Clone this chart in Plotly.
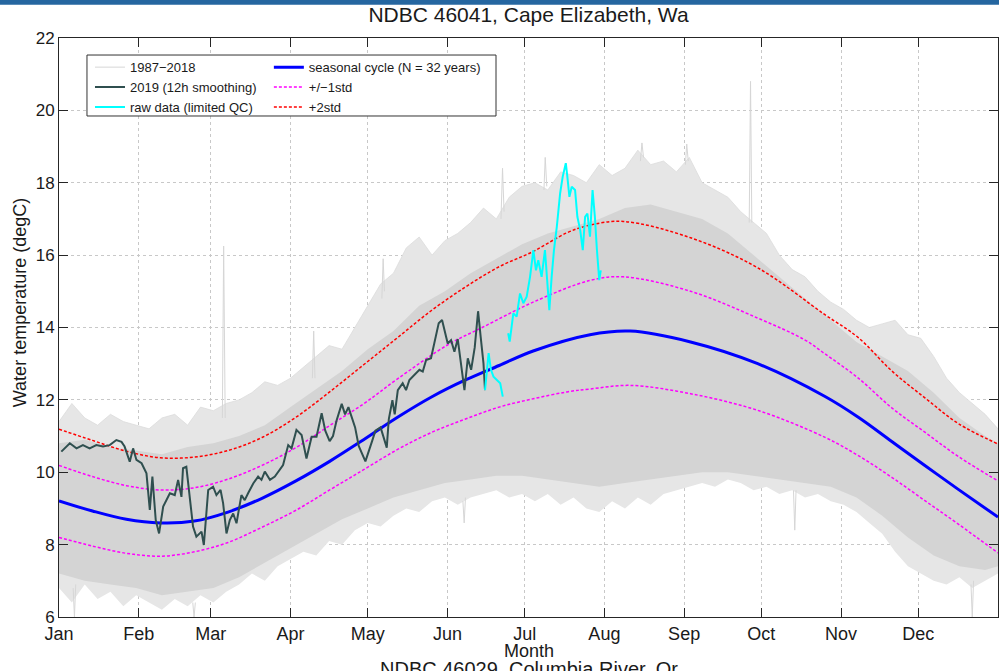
import plotly.graph_objects as go

# ---- axis labels -------------------------------------------------------
month_days = [0, 31, 59, 90, 120, 151, 181, 212, 243, 273, 304, 334]
month_labels = ["Jan", "Feb", "Mar", "Apr", "May", "Jun",
                "Jul", "Aug", "Sep", "Oct", "Nov", "Dec"]

# ---- 1987-2018 historical spread (outer extent, day of year) -----------
hist_day = list(range(0, 366, 5))
hist_max = [11.4, 11.9, 11.5, 11.3, 11.6, 11.4, 11.3, 11.2, 11.5, 11.6,
            11.3, 11.8, 11.7, 11.9, 12.0, 12.2, 12.5, 12.4, 12.6, 12.9,
            13.2, 13.5, 13.4, 14.0, 14.6, 15.2, 15.5, 16.2, 16.5, 16.0,
            16.4, 16.6, 16.9, 17.3, 17.0, 17.6, 17.9, 18.0, 17.8, 18.3,
            18.2, 18.0, 18.5, 18.2, 18.4, 18.9, 18.5, 18.6, 18.3, 18.7,
            18.0, 17.8, 17.6, 17.2, 16.9, 16.6, 16.0, 15.6, 15.4, 15.0,
            14.7, 14.5, 14.2, 14.0, 14.1, 14.2, 13.8, 13.7, 13.2, 12.6,
            12.2, 11.9, 11.6, 11.2]
hist_min = [6.8, 6.4, 6.9, 6.5, 6.7, 6.3, 6.6, 6.4, 6.2, 6.5,
            6.3, 6.6, 6.4, 6.7, 6.9, 7.2, 7.0, 7.4, 7.6, 7.8,
            7.7, 8.1, 8.0, 8.4, 8.6, 8.5, 8.8, 9.0, 8.9, 9.2,
            9.3, 9.1, 9.3, 9.4, 9.5, 9.3, 9.4, 9.2, 9.4, 9.1,
            9.3, 9.0, 8.9, 9.2, 9.0, 9.3, 9.1, 9.4, 9.5, 9.6,
            9.7, 9.6, 9.8, 9.7, 9.5, 9.6, 9.4, 9.5, 9.3, 9.4,
            9.2, 9.1, 8.9, 8.6, 8.3, 7.8, 7.4, 7.2, 7.0, 6.9,
            7.1, 6.8, 7.0, 7.2]

# denser core of the historical records
core_day = list(range(0, 361, 10)) + [365]
core_max = [10.8, 10.9, 10.7, 10.6, 10.5, 10.7, 10.8, 11.0, 11.3, 11.8,
            12.3, 12.8, 13.4, 13.9, 14.6, 15.0, 15.5, 15.9, 16.3, 16.6,
            16.8, 17.0, 17.3, 17.4, 17.2, 17.0, 16.6, 16.0, 15.4, 14.8,
            14.2, 13.6, 13.2, 12.8, 12.2, 11.5, 11.0, 10.8]
core_min = [7.2, 7.0, 6.9, 6.8, 6.6, 6.7, 6.8, 7.1, 7.5, 7.9,
            8.3, 8.7, 9.0, 9.3, 9.5, 9.7, 9.8, 9.9, 9.9, 9.8,
            9.7, 9.6, 9.7, 9.8, 9.9, 10.0, 10.0, 9.9, 9.8, 9.7,
            9.6, 9.3, 8.8, 8.2, 7.7, 7.4, 7.3, 7.4]

# isolated excursions of individual years (None separates events)
spike_day = [5.5, 6.0, 6.5, None, 52.0, 52.5, 53.0, None,
             63.5, 64.0, 64.6, None, 98.5, 99.0, 99.5, None,
             125.5, 126.0, 126.5, None, 157.0, 157.5, 158.0, None,
             171.8, 172.4, 173.0, None, 188.5, 189.0, 189.6, None,
             226.0, 226.6, 227.2, None, 243.5, 244.0, 244.6, None,
             268.3, 268.8, 269.3, None, 285.5, 286.0, 286.5, None,
             354.5, 355.0, 355.5]
spike_val = [6.8, 6.0, 6.9, None, 6.4, 6.0, 6.4, None,
             11.5, 16.25, 11.5, None, 12.6, 13.9, 12.6, None,
             14.8, 15.9, 15.0, None, 9.2, 8.6, 9.3, None,
             17.0, 18.4, 17.2, None, 17.8, 18.7, 17.9, None,
             18.6, 19.1, 18.7, None, 18.5, 19.07, 18.6, None,
             16.9, 20.8, 16.9, None, 9.5, 8.4, 9.5, None,
             6.9, 6.0, 7.0]

# ---- seasonal cycle and spread -----------------------------------------
cyc_day = [0, 13, 26.2, 39.4, 52.6, 65.7, 78.9, 92.1, 105.2, 118.4, 131.6,
           144.8, 158, 171.1, 184.3, 206.4, 222, 245.5, 271.6, 297.6,
           310.7, 323.7, 336.7, 349.7, 365]
cyc_mean = [9.21, 8.93, 8.70, 8.60, 8.65, 8.90, 9.28, 9.76, 10.30, 10.90,
            11.52, 12.08, 12.55, 12.95, 13.35, 13.80, 13.90, 13.60, 13.00,
            12.10, 11.52, 10.85, 10.18, 9.52, 8.76]

up1_day = [0, 13, 26.2, 39.4, 52.6, 65.7, 78.9, 92.1, 105.2, 118.4, 131.6,
           151.3, 164.5, 184.3, 206.4, 219.4, 245.5, 271.6, 289.8, 297.6,
           310.7, 323.7, 336.7, 349.7, 365]
up1_val = [10.19, 9.88, 9.63, 9.51, 9.57, 9.81, 10.19, 10.68, 11.29, 11.89,
           12.58, 13.53, 14.00, 14.70, 15.30, 15.40, 15.00, 14.26, 13.66,
           13.28, 12.60, 11.78, 11.10, 10.43, 9.76]

lo1_day = [0, 13, 26.2, 39.4, 52.6, 65.7, 78.9, 92.1, 105.2, 118.4, 131.6,
           144.8, 158, 171.1, 184.3, 197.5, 206.4, 222, 245.5, 271.6, 297.6,
           310.7, 323.7, 336.7, 349.7, 365]
lo1_val = [8.20, 7.96, 7.76, 7.68, 7.80, 8.06, 8.48, 8.95, 9.51, 10.07,
           10.63, 11.10, 11.47, 11.80, 12.03, 12.22, 12.30, 12.40, 12.17,
           11.71, 10.97, 10.46, 9.86, 9.21, 8.56, 7.77]

up2_day = [0, 13, 26.2, 39.4, 52.6, 65.7, 78.9, 92.1, 105.2, 118.4, 131.6,
           144.8, 158, 171.1, 184.3, 197.5, 206.4, 219.4, 245.5, 271.6,
           297.6, 310.7, 323.7, 336.7, 349.7, 365]
up2_val = [11.19, 10.88, 10.58, 10.40, 10.42, 10.60, 10.96, 11.52, 12.22,
           12.97, 13.72, 14.47, 15.12, 15.68, 16.10, 16.62, 16.83, 16.93,
           16.48, 15.65, 14.36, 13.72, 12.80, 12.05, 11.34, 10.78]

# ---- 2019, 12 h smoothed ----------------------------------------------
y2019_day = [0.9, 4.2, 6.8, 9.3, 11.9, 14.5, 17.1, 19.7, 22.3, 24.3, 25.5,
             27.5, 28.8, 30.1, 32.1, 34.0, 35.3, 36.3, 37.6, 38.9, 40.5,
             41.8, 43.1, 45.0, 46.3, 47.6, 48.2, 49.5, 50.8, 52.1, 53.4,
             55.4, 56.3, 58.0, 59.9, 61.2, 62.8, 63.8, 65.1, 66.4, 67.7,
             69.0, 70.9, 72.2, 73.5, 75.5, 77.4, 78.7, 80.0, 82.0, 83.9,
             85.8, 87.1, 89.1, 90.4, 92.3, 94.3, 96.2, 98.2, 100.1, 102.1,
             103.5, 105.2, 106.5, 107.9, 109.9, 111.2, 112.5, 113.8, 115.1,
             116.5, 117.7, 119.1, 121.7, 123.0, 125.0, 127.4, 128.2, 129.6,
             130.5, 131.7, 133.6, 134.9, 136.2, 138.2, 140.1, 141.4, 142.7,
             144.6, 146.3, 147.6, 148.9, 149.8, 151.1, 152.4, 153.7, 155.0,
             156.3, 157.6, 158.9, 160.2, 161.6, 162.9, 163.9, 165.0, 165.6]
y2019_val = [10.57, 10.80, 10.66, 10.75, 10.66, 10.75, 10.71, 10.75, 10.89,
             10.84, 10.71, 10.29, 10.66, 10.34, 10.25, 9.97, 8.96, 9.88,
             8.68, 8.31, 9.05, 9.23, 9.42, 9.37, 9.79, 9.32, 10.11, 10.15,
             9.32, 8.50, 8.22, 8.36, 7.99, 9.51, 9.60, 9.37, 9.51, 9.14,
             8.31, 8.68, 8.86, 8.59, 9.37, 9.23, 9.42, 9.69, 9.88, 9.79,
             10.02, 9.79, 9.88, 10.06, 10.20, 10.75, 10.66, 11.17, 11.03,
             10.38, 10.98, 10.98, 11.63, 11.15, 10.86, 11.00, 11.43, 11.89,
             11.60, 11.80, 11.52, 11.24, 10.73, 10.54, 10.30, 10.86, 11.15,
             11.24, 10.68, 11.47, 11.99, 11.60, 12.27, 12.46, 12.27, 12.55,
             12.69, 12.83, 12.78, 13.10, 13.15, 13.75, 14.12, 14.21, 13.93,
             13.56, 13.65, 13.33, 13.68, 13.00, 12.27, 13.15, 12.83, 13.45,
             14.45, 13.75, 13.01, 12.27]

# ---- raw real-time data ------------------------------------------------
raw_day = [165.6, 166.3, 167.0, 167.9, 168.9, 170.2, 171.5, 172.5, None,
           174.6, 175.2, 176.6, 177.9, 179.2, 180.5, 181.8, 183.1, 184.4,
           185.4, 186.3, 187.6, 188.9, 189.5, 190.6, 191.5, 192.4, 193.5,
           194.8, 195.8, 197.0, 197.6, 198.4, 199.3, 200.6, 201.5, 202.6,
           203.6, 204.5, 205.4, 206.4, 207.4, 208.3, 209.1, 210.0, 210.6]
raw_val = [12.27, 12.83, 13.29, 12.83, 12.64, 12.55, 12.46, 12.09, None,
           13.84, 13.61, 14.39, 14.30, 14.94, 14.67, 14.85, 15.40, 16.14,
           15.58, 15.86, 15.40, 16.14, 15.58, 14.48, 15.40, 16.14, 16.78,
           17.71, 18.17, 18.54, 18.17, 17.61, 17.89, 17.80, 17.06, 16.69,
           16.14, 17.06, 17.15, 16.51, 17.80, 17.06, 16.14, 15.31, 15.58]

FONT = "Liberation Sans, Arial, Helvetica, sans-serif"
DOT = "3px,2px"

fig = go.Figure()

# historical spread: outer extent then denser core
fig.add_trace(go.Scatter(x=hist_day, y=hist_min, mode="lines",
                         line=dict(width=0, color="#e4e4e4"),
                         showlegend=False, hoverinfo="skip"))
fig.add_trace(go.Scatter(x=hist_day, y=hist_max, mode="lines", fill="tonexty",
                         fillcolor="#e6e6e6", line=dict(width=0.8, color="#dcdcdc"),
                         showlegend=False, hoverinfo="skip"))
fig.add_trace(go.Scatter(x=core_day, y=core_min, mode="lines",
                         line=dict(width=0, color="#d4d4d4"),
                         showlegend=False, hoverinfo="skip"))
fig.add_trace(go.Scatter(x=core_day, y=core_max, mode="lines", fill="tonexty",
                         fillcolor="#d4d4d4", line=dict(width=0, color="#d4d4d4"),
                         showlegend=False, hoverinfo="skip"))
fig.add_trace(go.Scatter(x=spike_day, y=spike_val, mode="lines",
                         line=dict(width=1, color="#d6d6d6"),
                         name="1987\u22122018", legend="legend"))

# seasonal cycle with standard deviation envelopes
fig.add_trace(go.Scatter(x=cyc_day, y=cyc_mean, mode="lines",
                         line=dict(width=3, color="#0000ff", shape="spline"),
                         name="seasonal cycle (N = 32 years)", legend="legend2"))
fig.add_trace(go.Scatter(x=up1_day, y=up1_val, mode="lines",
                         line=dict(width=1.5, color="#ff00ff", dash=DOT, shape="spline"),
                         name="+/\u22121std", legend="legend2"))
fig.add_trace(go.Scatter(x=lo1_day, y=lo1_val, mode="lines",
                         line=dict(width=1.5, color="#ff00ff", dash=DOT, shape="spline"),
                         showlegend=False))
fig.add_trace(go.Scatter(x=up2_day, y=up2_val, mode="lines",
                         line=dict(width=1.5, color="#ff0000", dash=DOT, shape="spline"),
                         name="+2std", legend="legend2"))

# current year
fig.add_trace(go.Scatter(x=y2019_day, y=y2019_val, mode="lines",
                         line=dict(width=2, color="#2f4f4f"),
                         name="2019 (12h smoothing)", legend="legend"))
fig.add_trace(go.Scatter(x=raw_day, y=raw_val, mode="lines",
                         line=dict(width=2, color="#00ffff"),
                         name="raw data (limited QC)", legend="legend"))

axis_common = dict(showline=True, linecolor="#262626", linewidth=1, mirror="ticks",
                   ticks="inside", ticklen=9, tickcolor="#262626",
                   showgrid=True, gridcolor="#c8c8c8", griddash="dot", gridwidth=1,
                   zeroline=False)

fig.update_xaxes(range=[0, 365], tickvals=month_days, ticktext=month_labels,
                 tickfont=dict(family=FONT, size=18, color="#1a1a1a"), **axis_common)
fig.update_yaxes(range=[6, 22], dtick=2,
                 tickfont=dict(family=FONT, size=17, color="#1a1a1a"), **axis_common)

legend_common = dict(bgcolor="rgba(0,0,0,0)", borderwidth=0, xanchor="left",
                     yanchor="top", font=dict(family=FONT, size=13, color="#1a1a1a"),
                     tracegroupgap=0, itemwidth=30, traceorder="normal")

fig.update_layout(
    width=999, height=671,
    margin=dict(l=59, r=1, t=38, b=54),
    paper_bgcolor="white", plot_bgcolor="white",
    font=dict(family=FONT, color="#1a1a1a"),
    title=dict(text="NDBC 46041, Cape Elizabeth, Wa", x=0.5, xref="paper",
               xanchor="center", y=1 - 15 / 671, yref="container", yanchor="middle",
               font=dict(family=FONT, size=21, color="#1a1a1a")),
    legend=dict(x=0.033, y=0.9755, **legend_common),
    legend2=dict(x=0.2235, y=0.9755, **legend_common),
    shapes=[
        dict(type="rect", xref="paper", yref="paper", x0=0.0298, x1=0.4654,
             y0=0.8653, y1=0.9706, line=dict(color="#333333", width=1),
             fillcolor="white", layer="above"),
        dict(type="rect", xref="paper", yref="paper", x0=-0.07, x1=1.01,
             y0=1.0573, y1=1.07, line=dict(width=0), fillcolor="#2566a0",
             layer="above"),
    ],
    annotations=[
        dict(text="Water temperature (degC)", textangle=-90, xref="paper",
             yref="paper", x=-0.0415, y=0.542, xanchor="center", yanchor="middle",
             showarrow=False, font=dict(family=FONT, size=18, color="#1a1a1a")),
        dict(text="Month", xref="paper", yref="paper", x=0.5, y=-0.0587,
             yanchor="middle", showarrow=False,
             font=dict(family=FONT, size=18, color="#1a1a1a")),
        dict(text="NDBC 46029, Columbia River, Or", xref="paper", yref="paper",
             x=0.5, y=-0.068, yanchor="top", showarrow=False,
             font=dict(family=FONT, size=20, color="#1a1a1a")),
    ],
)

fig.write_html("out.html")
